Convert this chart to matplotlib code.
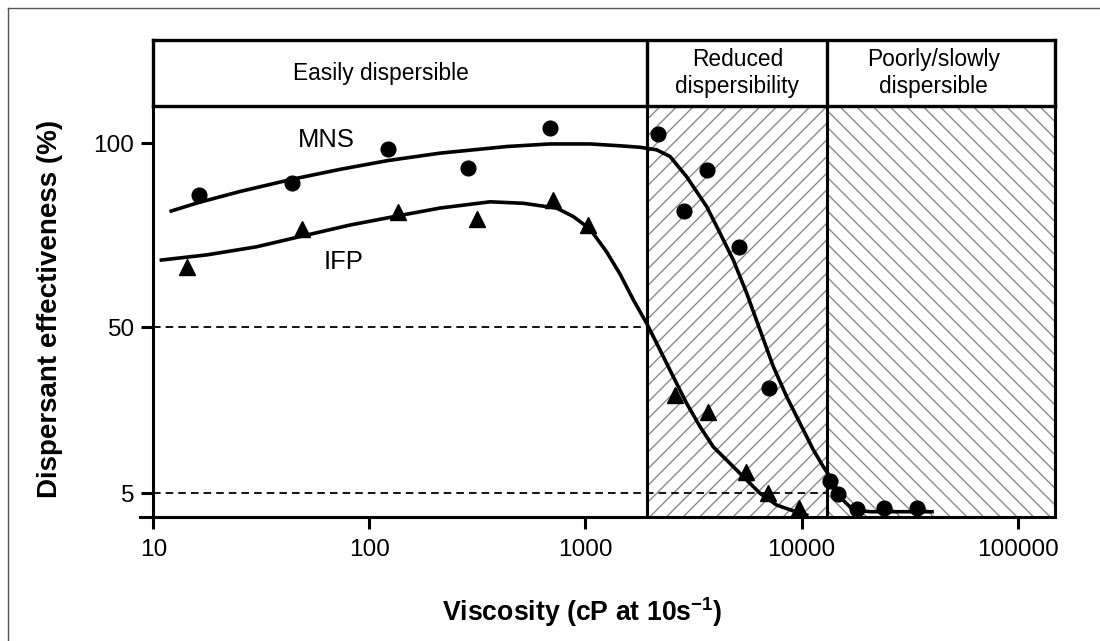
import matplotlib
matplotlib.use("Agg")
import matplotlib.pyplot as plt
from matplotlib.lines import Line2D

plt.rcParams['font.family'] = ['Liberation Sans', 'DejaVu Sans']
plt.rcParams['mathtext.fontset'] = 'custom'
plt.rcParams['mathtext.rm'] = 'Liberation Sans'
plt.rcParams['mathtext.bf'] = 'Liberation Sans:bold'
plt.rcParams['hatch.linewidth'] = 1.0

# measured points (viscosity in cP, effectiveness in %)
mns_visc = [16.2, 43.7, 122, 287, 685, 2160, 2870, 3640, 5140, 7100, 13550, 14800, 18100, 24100, 34100]
mns_eff = [86.0, 89.3, 98.4, 93.4, 104.1, 102.4, 81.6, 92.8, 71.9, 33.5, 8.4, 4.7, 0.7, 0.9, 1.1]

ifp_visc = [14.3, 48.9, 136, 314, 705, 1030, 2600, 3690, 5540, 7000, 9740]
ifp_eff = [66.5, 76.7, 81.4, 79.4, 84.6, 77.8, 31.7, 27.1, 10.9, 5.0, 0.9]

# fitted curves
mns_fit_visc = [12.1, 16.2, 25.2, 43.7, 73.1, 122, 212, 432, 685, 1050, 1445, 1788, 2137, 2463,
                2941, 3640, 4196, 4834, 5576, 6426, 7404, 8541, 9840, 11340, 12620, 13550,
                15070, 17310, 20750, 40170]
mns_fit_eff = [81.6, 83.9, 86.9, 90.2, 92.9, 95.3, 97.3, 99.1, 99.8, 99.8, 99.3, 98.9, 98.2, 96.4,
               90.9, 82.8, 75.6, 68.3, 59.3, 49.3, 39.4, 31.2, 24.0, 16.8, 12.2, 9.5,
               4.0, 0.5, 0.0, 0.0]

ifp_fit_visc = [10.9, 17.7, 30.1, 48.9, 81.4, 136, 212, 362, 516, 736, 879, 1050, 1254, 1445, 1666,
                1921, 2214, 2551, 2941, 3390, 3906, 4668, 5378, 6426, 7678, 9840, 10570]
ifp_fit_eff = [68.3, 69.7, 71.9, 74.8, 77.8, 80.3, 82.4, 84.1, 83.7, 82.4, 80.1, 76.7, 70.5, 64.5, 57.5,
               51.1, 43.9, 36.6, 29.4, 23.1, 17.6, 13.1, 9.5, 5.0, 1.8, -0.4, -0.9]

# zone limits and labels
zone_edges = [10, 1933, 13160, 149000]
zone_labels = ["Easily dispersible", "Reduced\ndispersibility", "Poorly/slowly\ndispersible"]
zone_label_x = [113, 5044, 41000]

x_ticks = [10, 100, 1000, 10000, 100000]
y_ticks = [100, 50, 5]

fig = plt.figure(figsize=(11, 6.41), dpi=100)
ax = fig.add_axes([0.13936, 0.19392, 0.81973, 0.64072])
axh = fig.add_axes([0.13936, 0.83463, 0.81973, 0.10296], sharex=ax)

ax.set_xscale('log')
ax.set_xlim(zone_edges[0], zone_edges[-1])
ax.set_ylim(-1.35, 110.1)

# hatched zones
ax.axvspan(zone_edges[1], zone_edges[2], facecolor='none', edgecolor='#8a8a8a',
           hatch='//', linewidth=0, zorder=0)
ax.axvspan(zone_edges[2], zone_edges[3], facecolor='none', edgecolor='#8a8a8a',
           hatch='\\\\', linewidth=0, zorder=0)
for xe in zone_edges[1:3]:
    ax.axvline(xe, color='black', lw=2.2, zorder=2)
    axh.axvline(xe, color='black', lw=2.4)

# reference levels
ax.plot([zone_edges[0], zone_edges[1]], [50, 50], color='black', lw=1.3,
        linestyle=(0, (4.2, 2.8)), zorder=2)
ax.plot([zone_edges[0], zone_edges[2]], [5, 5], color='black', lw=1.3,
        linestyle=(0, (4.2, 2.8)), zorder=2)

ax.plot(mns_fit_visc, mns_fit_eff, color='black', lw=2.6, zorder=3, solid_joinstyle='round')
ax.plot(ifp_fit_visc, ifp_fit_eff, color='black', lw=2.6, zorder=3, solid_joinstyle='round')
ax.plot(mns_visc, mns_eff, 'o', color='black', ms=10.6, zorder=4, clip_on=False)
ax.plot(ifp_visc, ifp_eff, '^', color='black', ms=11.5, zorder=4, clip_on=False)

ax.text(63, 101.0, "MNS", fontsize=18.4, ha='center', va='center')
ax.text(76, 67.9, "IFP", fontsize=18.4, ha='center', va='center')

ax.set_xticks(x_ticks)
ax.set_xticklabels([str(t) for t in x_ticks])
ax.xaxis.set_minor_locator(plt.NullLocator())
ax.set_yticks(y_ticks)
ax.set_yticklabels([str(t) for t in y_ticks])
ax.tick_params(axis='both', direction='out', length=8.4, width=2.2, labelsize=17.6, colors='black')
ax.tick_params(axis='x', pad=8)
ax.tick_params(axis='y', pad=5.6)
for sp in ax.spines.values():
    sp.set_linewidth(2.2)

# bottom axis line runs a little past the y axis
ax.add_line(Line2D([-0.0148, 0], [0, 0], transform=ax.transAxes, color='black',
                   lw=2.2, clip_on=False))

ax.set_ylabel("Dispersant effectiveness (%)", fontsize=20, fontweight='bold')
ax.yaxis.set_label_coords(-0.100, 0.507)
ax.set_xlabel(r"Viscosity (cP at 10s$^{\mathbf{-1}}$)", fontsize=19.2, fontweight='bold')
ax.xaxis.set_label_coords(0.476, -0.19)

# header strip
axh.set_ylim(0, 1)
axh.tick_params(left=False, bottom=False, labelleft=False, labelbottom=False)
for sp in axh.spines.values():
    sp.set_linewidth(2.4)
for lx, lab in zip(zone_label_x, zone_labels):
    axh.text(lx, 0.5, lab, fontsize=16.4, ha='center', va='center', linespacing=1.2)

# page frame
fig.add_artist(Line2D([8 / 1100, 1], [1 - 8 / 641, 1 - 8 / 641], transform=fig.transFigure,
                      color='#555555', lw=1.0))
fig.add_artist(Line2D([8 / 1100, 8 / 1100], [0, 1 - 8 / 641], transform=fig.transFigure,
                      color='#555555', lw=1.0))

fig.savefig("out.png", dpi=100)
